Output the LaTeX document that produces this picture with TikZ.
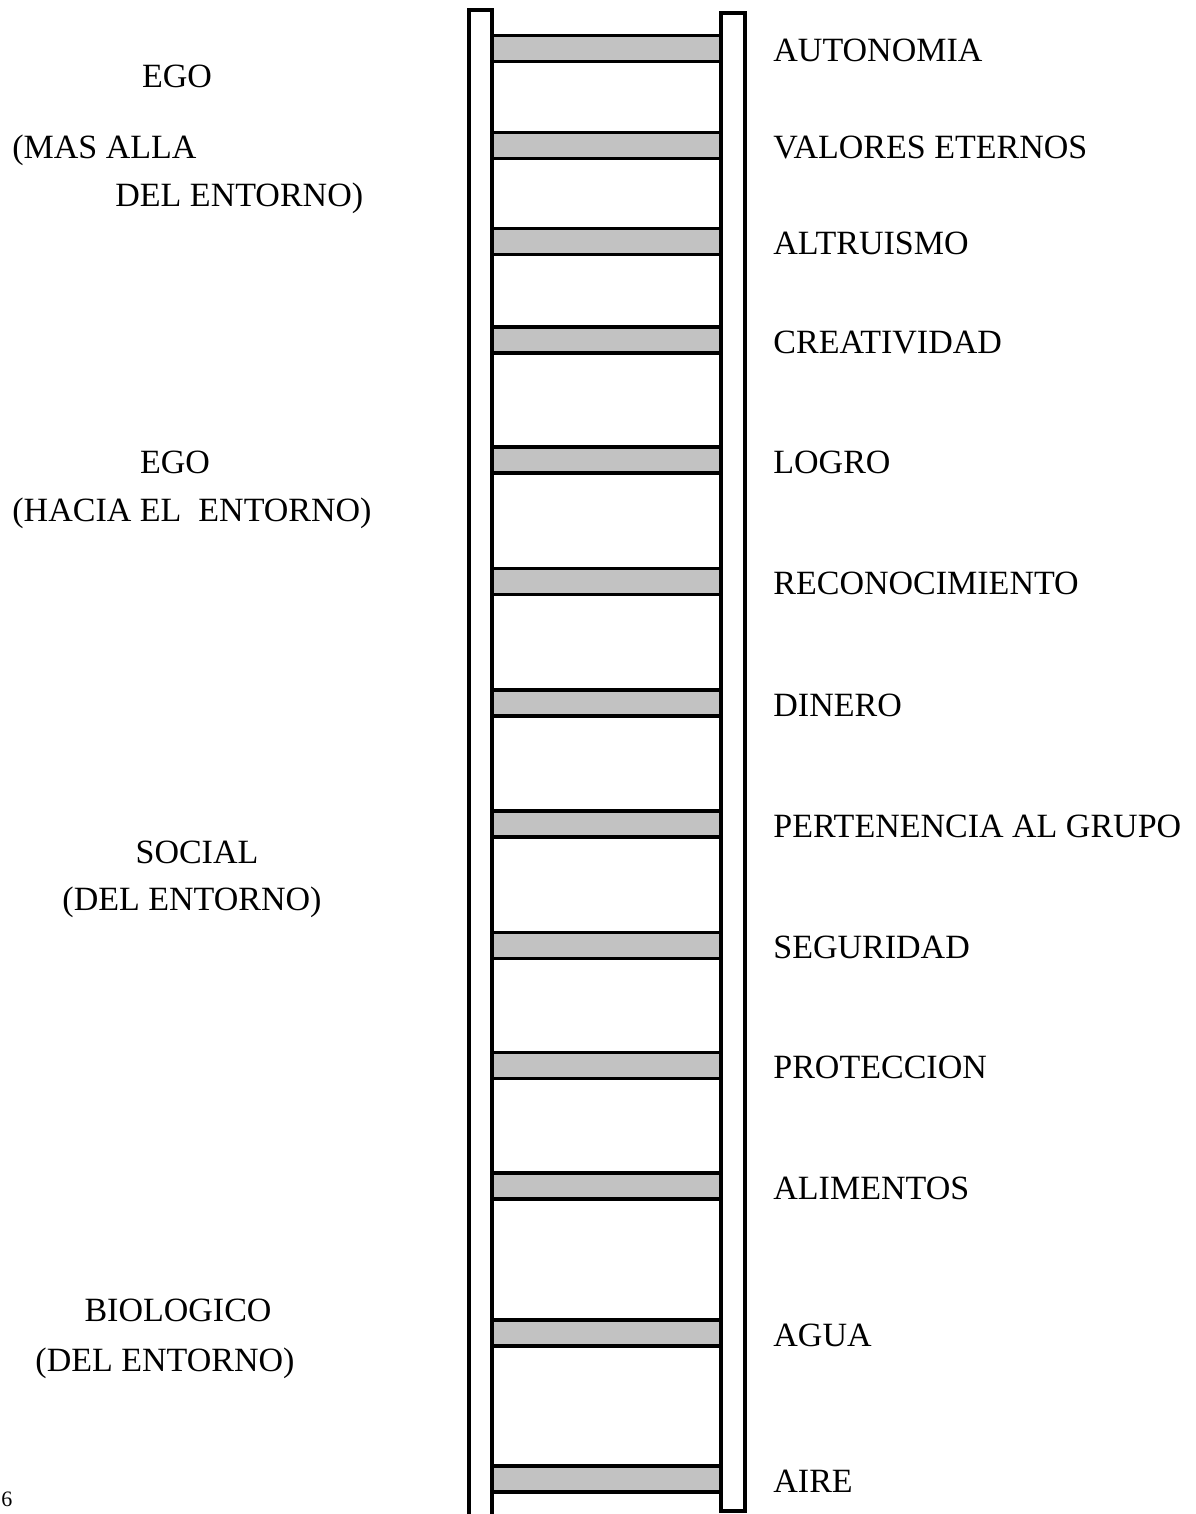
\documentclass[tikz,border=0pt]{standalone}
\usepackage{fontspec}
\setmainfont{Liberation Serif}
\usepackage{tikz}

\begin{document}
\begin{tikzpicture}[
    x=0.5pt,y=-0.5pt,
    rail/.style={draw,line width=1.8pt,fill=white},
    rung/.style={rectangle,draw,line width=1.8pt,fill=black!24,minimum width=114.5pt,minimum height=13pt,inner sep=0pt},
    need/.style={anchor=base west,inner sep=0pt,font=\fontsize{17}{20}\selectfont},
    level/.style={anchor=base,inner sep=0pt,font=\fontsize{17}{20}\selectfont}
]
\useasboundingbox (0,0) rectangle (1195,1514);
% rungs and the needs beside them
\foreach \y/\name/\txt in {48.5/autonomia/AUTONOMIA,145.5/valores/VALORES ETERNOS,241.5/altruismo/ALTRUISMO,
    340/creatividad/CREATIVIDAD,460/logro/LOGRO,581.5/reconocimiento/RECONOCIMIENTO,703/dinero/DINERO,
    824/pertenencia/PERTENENCIA AL GRUPO,945.5/seguridad/SEGURIDAD,1065.5/proteccion/PROTECCION,
    1186/alimentos/ALIMENTOS,1333/agua/AGUA,1479/aire/AIRE}{
  \node[rung] (\name) at (606.5,\y) {};
  \node[need] (\name-txt) at (773,\y+13) {\txt};
}
% side rails
\draw[rail] (469,10) rectangle (492,1530);
\draw[rail] (721,13) rectangle (745,1511);
% levels
\node[level] (ego1) at (177,88) {EGO};
\node[need] (masalla) at (12,159) {(MAS ALLA};
\node[need] (delentorno1) at (115,207) {DEL ENTORNO)};
\node[level] (ego2) at (175,473) {EGO};
\node[level] (hacia) at (192,521) {(HACIA EL\ \ ENTORNO)};
\node[level] (social) at (197,863) {SOCIAL};
\node[level] (delentorno2) at (192,910) {(DEL ENTORNO)};
\node[level] (biologico) at (178,1321) {BIOLOGICO};
\node[level] (delentorno3) at (165,1371) {(DEL ENTORNO)};
\node[need,font=\fontsize{11}{13}\selectfont] (pagina) at (1,1506) {6};
\end{tikzpicture}
\end{document}
